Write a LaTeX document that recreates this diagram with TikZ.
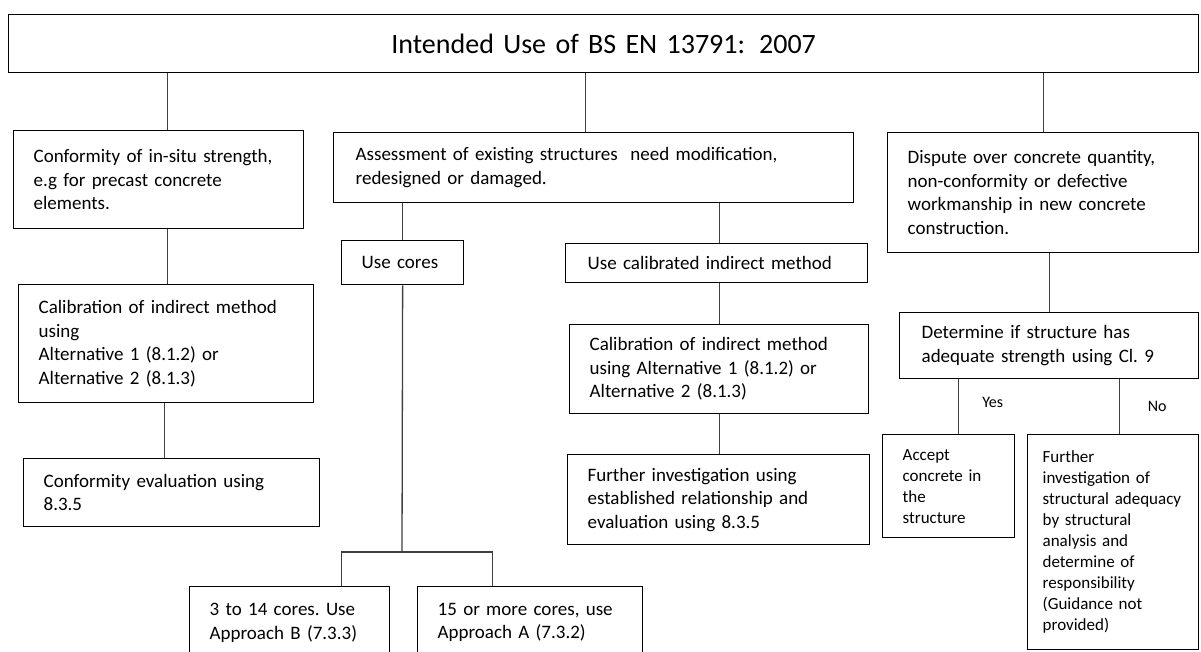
\documentclass[tikz,border=0pt]{standalone}
\usepackage{fontspec}
\setmainfont{Carlito}
\usetikzlibrary{positioning,calc}
\newcommand\boxfont{\fontsize{19}{23.5}\selectfont\frenchspacing}
\newcommand\narrowfont{\fontsize{17}{21}\selectfont\frenchspacing}

\begin{document}
\begin{tikzpicture}[
  x=1pt, y=-1pt,
  box/.style={draw, line width=1.3pt, anchor=north west, align=left,
              inner xsep=20pt, inner ysep=0pt, font=\boxfont},
  link/.style={draw=black!75, line width=1.3pt},
  lbl/.style={inner sep=0pt, font=\fontsize{16}{19}\selectfont}
]
  \fill[white] (0,0) rectangle (1201,651);
  \useasboundingbox (0,0) rectangle (1201,651);
  \clip (0,0) rectangle (1201,651);

  % Top box
  \node[box, align=center, text width=1150pt, minimum height=58pt,
        font=\fontsize{28}{34}\selectfont] (title) at (8,14)
    {Intended Use of BS EN 13791: 2007};

  % Left branch
  \node[box, text width=250pt, minimum height=98pt] (conf) at (13,130)
    {Conformity of in-situ strength,\\e.g for precast concrete\\elements.};
  \node[box, text width=255pt, minimum height=118pt] (calibl) at (18,284)
    {Calibration of indirect method\\using\\Alternative 1 (8.1.2) or\\Alternative 2 (8.1.3)};
  \node[box, text width=256pt, minimum height=68pt] (confev) at (23,458)
    {Conformity evaluation using\\8.3.5};

  % Middle branch
  \node[box, inner xsep=22pt, text width=476pt, minimum height=70pt] (assess) at (333,132)
    {Assessment of existing structures~ need modification,\\redesigned or damaged.};
  \node[box, text width=82pt, minimum height=44pt] (cores) at (341,240)
    {Use cores};
  \node[box, inner xsep=22pt, text width=258pt, minimum height=39pt] (usecal) at (565,243)
    {Use calibrated indirect method};
  \node[box, text width=259pt, minimum height=89pt] (calibm) at (569,324)
    {Calibration of indirect method\\using Alternative 1 (8.1.2) or\\Alternative 2 (8.1.3)};
  \node[box, text width=262pt, minimum height=90pt] (furtherm) at (567,454)
    {Further investigation using\\established relationship and\\evaluation using 8.3.5};
  \node[box, text width=160pt, minimum height=72pt] (appb) at (189,586)
    {3 to 14 cores. Use\\Approach B (7.3.3)};
  \node[box, text width=185pt, minimum height=72pt] (appa) at (417,586)
    {15 or more cores, use\\Approach A (7.3.2)};

  % Right branch
  \node[box, text width=271pt, minimum height=120pt] (dispute) at (887,132)
    {Dispute over concrete quantity,\\non-conformity or defective\\workmanship in new concrete\\construction.};
  \node[box, inner xsep=22pt, text width=255pt, minimum height=66pt] (determ) at (899,312)
    {Determine if structure has\\adequate strength using Cl. 9};
  \node[box, font=\narrowfont, text width=92pt, minimum height=103pt] (accept) at (882,434)
    {Accept\\concrete in\\the\\structure};
  \node[box, font=\narrowfont, inner xsep=15pt, text width=141pt, minimum height=215pt] (furtherr) at (1027,434)
    {Further\\investigation of\\structural adequacy\\by structural\\analysis and\\determine of\\responsibility\\(Guidance not\\provided)};

  % Connectors
  \draw[link] ($(conf.north)+(9,0)$) -- ($(conf.north |- title.south)+(9,0)$);
  \draw[link] ($(conf.south)+(9,0)$) -- ($(conf.south |- calibl.north)+(9,0)$);
  \draw[link] ($(calibl.south)+(-2,0)$) -- ($(calibl.south |- confev.north)+(-2,0)$);

  \draw[link] ($(assess.north)+(-8,0)$) -- ($(assess.north |- title.south)+(-8,0)$);
  \draw[link] (cores.north) -- (cores.north |- assess.south);
  \draw[link] ($(usecal.north)+(3,0)$) -- ($(usecal.north |- assess.south)+(3,0)$);
  \draw[link] ($(usecal.south)+(3,0)$) -- ($(usecal.south |- calibm.north)+(3,0)$);
  \draw[link] (calibm.south) -- (calibm.south |- furtherm.north);
  \coordinate (split) at (402,552);
  \draw[link] (cores.south) -- (split);
  \draw[link] ($(appb.north)+(52,0)$) |- (split) -| ($(appa.north)+(-38,0)$);

  \draw[link] (dispute.north) -- (dispute.north |- title.south);
  \draw[link] (determ.north) -- (determ.north |- dispute.south);
  \draw[link] ($(accept.north)+(10,0)$) --
    node[lbl, right=23pt, yshift=4pt] (yes) {Yes} ($(accept.north |- determ.south)+(10,0)$);
  \draw[link] ($(furtherr.north)+(6,0)$) --
    node[lbl, right=28pt] (no) {No} ($(furtherr.north |- determ.south)+(6,0)$);
\end{tikzpicture}
\end{document}
